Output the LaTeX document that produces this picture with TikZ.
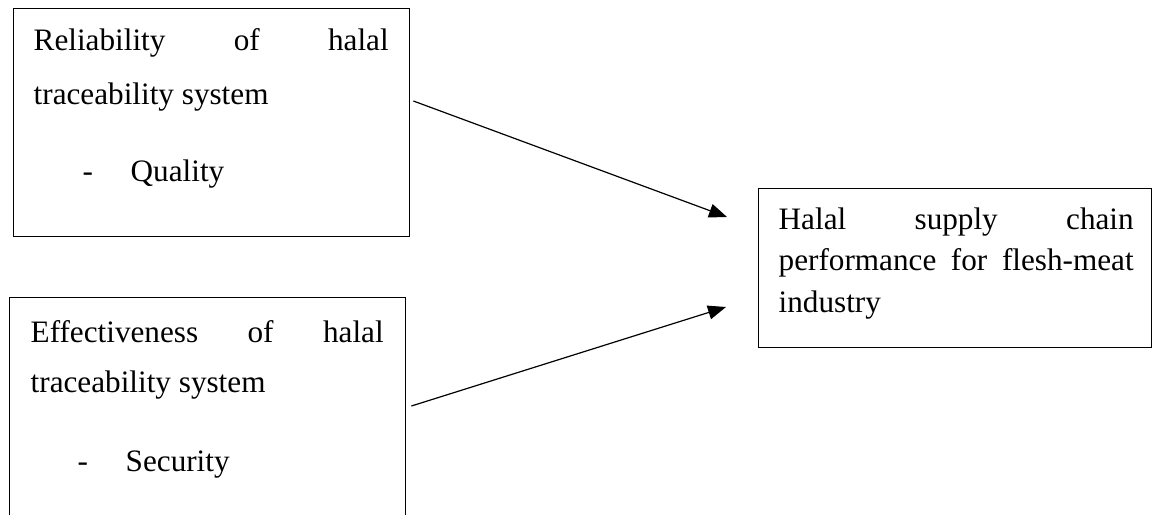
\documentclass[tikz,border=0pt]{standalone}
\usepackage{fontspec}
\setmainfont{Liberation Serif}
\usetikzlibrary{arrows.meta}

\begin{document}
\begin{tikzpicture}[x=0.5pt, y=-0.5pt, line width=0.7pt,
	box/.style={draw, rectangle, anchor=north west, inner sep=0pt},
	txt/.style={anchor=base west, inner sep=0pt, font=\fontsize{15.6pt}{20pt}\selectfont},
	conn/.style={-{Triangle[length=9pt,width=7pt]}, line width=0.6pt}]

	\clip (0, 0) rectangle (1155, 514); % page frame

	% boxes
	\node[box, minimum width=198pt, minimum height=114pt] (reliab) at (13, 8) {};
	\node[box, minimum width=198pt, minimum height=140pt] (effect) at (9, 297) {};
	\node[box, minimum width=196.5pt, minimum height=79.5pt] (perf) at (758, 188) {};

	% texts of the first box
	\node[txt] (reliabA) at (33, 50) {\hbox to 177.5pt{Reliability\hfill of\hfill halal}};
	\node[txt] (reliabB) at (33, 104) {traceability system};
	\node[txt] (reliabC) at (82, 181) {-};
	\node[txt] (reliabD) at (130, 181) {Quality};

	% texts of the second box
	\node[txt] (effectA) at (30, 342) {\hbox to 176.5pt{Effectiveness\hfill of\hfill halal}};
	\node[txt] (effectB) at (30, 392) {traceability system};
	\node[txt] (effectC) at (77, 471) {-};
	\node[txt] (effectD) at (125, 471) {Security};

	% texts of the third box
	\node[txt] (perfA) at (778, 229) {\hbox to 177.5pt{Halal\hfill supply\hfill chain}};
	\node[txt] (perfB) at (778, 270) {\hbox to 177.5pt{performance\hfill for\hfill flesh-meat}};
	\node[txt] (perfC) at (778, 312) {industry};

	% arrows
	\draw[conn] ([xshift=1.5pt, yshift=-46.5pt]reliab.north east) -- ([xshift=-15.5pt, yshift=-14.5pt]perf.north west);
	\draw[conn] ([xshift=2.5pt, yshift=-54.5pt]effect.north east) -- ([xshift=-16pt, yshift=-59.5pt]perf.north west);
\end{tikzpicture}
\end{document}
